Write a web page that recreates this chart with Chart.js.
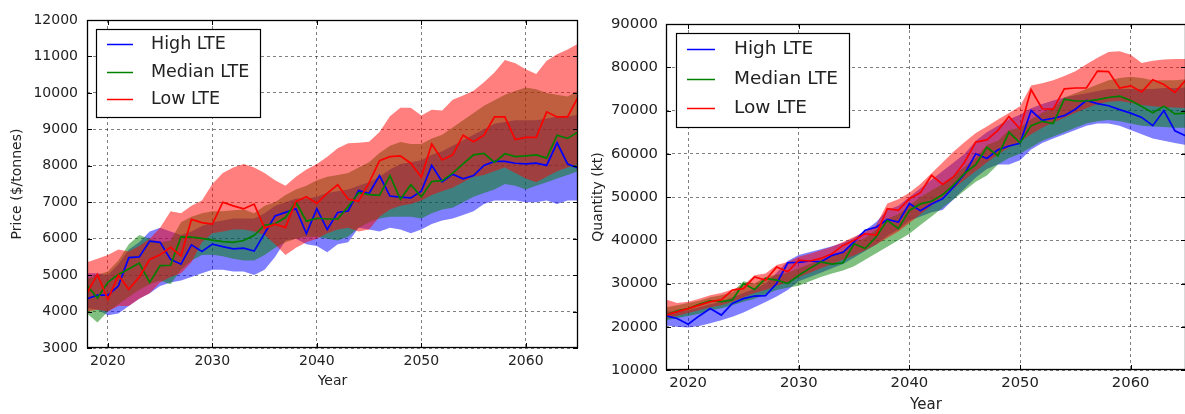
<!DOCTYPE html>
<html>
<head>
<meta charset="utf-8">
<script src="https://cdn.jsdelivr.net/npm/chart.js@4.4.1/dist/chart.umd.min.js"></script>
<style>
  html, body { margin: 0; padding: 0; background: #fff; overflow: hidden; width: 1185px; height: 414px; }
  .panel { position: absolute; top: 0; height: 414px; }
  #pricePanel { left: 0; width: 590px; }
  #qtyPanel { left: 590px; width: 600px; }
</style>
</head>
<body>
<div class="panel" id="pricePanel"><canvas id="priceChart"></canvas></div>
<div class="panel" id="qtyPanel"><canvas id="qtyChart"></canvas></div>
<script>
// ---- categories ----
const years = [
  2018, 2019, 2020, 2021, 2022, 2023, 2024, 2025, 2026, 2027,
  2028, 2029, 2030, 2031, 2032, 2033, 2034, 2035, 2036, 2037,
  2038, 2039, 2040, 2041, 2042, 2043, 2044, 2045, 2046, 2047,
  2048, 2049, 2050, 2051, 2052, 2053, 2054, 2055, 2056, 2057,
  2058, 2059, 2060, 2061, 2062, 2063, 2064, 2065
];
const seriesNames = ['High LTE', 'Median LTE', 'Low LTE'];

// ---- tick labels ----
const yearTicks = [2020, 2030, 2040, 2050, 2060];
const priceTicks = [3000, 4000, 5000, 6000, 7000, 8000, 9000, 10000, 11000, 12000];
const qtyTicks = [10000, 20000, 30000, 40000, 50000, 60000, 70000, 80000, 90000];

// ---- price ($/tonnes): central paths ----
const priceHigh = [
  4350, 4450, 4450, 4700, 5480, 5500, 5930, 5900, 5430, 5300,
  5830, 5650, 5850, 5780, 5720, 5740, 5660, 6150, 6620, 6720,
  6820, 6140, 6820, 6250, 6720, 6760, 7320, 7240, 7730, 7170,
  7140, 7120, 7300, 8010, 7560, 7770, 7640, 7730, 8010, 8120,
  8120, 8070, 8050, 8070, 8010, 8630, 8050, 7940
];
const priceMedian = [
  4720, 4370, 4800, 5020, 5170, 5330, 4800, 5260, 5270, 6050,
  6040, 6010, 5960, 5920, 5900, 5950, 6090, 6370, 6410, 6580,
  7000, 6480, 6560, 6540, 6540, 6880, 7260, 7210, 7190, 7730,
  7080, 7480, 7150, 7570, 7590, 7800, 8050, 8300, 8340, 8090,
  8330, 8250, 8270, 8300, 8210, 8840, 8750, 8930
];
const priceLow = [
  4500, 5020, 4330, 5000, 4610, 4950, 5430, 5560, 5760, 5530,
  6530, 6440, 6400, 7000, 6900, 6820, 6950, 6290, 6400, 6310,
  7020, 7150, 6970, 7250, 7480, 7080, 7030, 7530, 8140, 8250,
  8270, 8070, 7690, 8600, 8160, 8300, 8840, 8660, 8840, 9340,
  9340, 8720, 8780, 8780, 9480, 9340, 9340, 9880
];

// ---- price: uncertainty bands (lower / upper) ----
const priceHighLo = [
  4100, 4050, 3900, 3950, 4150, 4350, 4500, 4700, 4800, 4850,
  4950, 5050, 5150, 5150, 5100, 5100, 5000, 5150, 5500, 5950,
  6000, 5850, 5800, 5630, 5850, 5900, 6300, 6250, 6200, 6300,
  6250, 6150, 6250, 6400, 6500, 6550, 6650, 6750, 6950, 7050,
  7050, 7050, 7000, 7000, 7050, 6950, 7050, 7050
];
const priceHighHi = [
  5050, 5050, 5000, 5300, 5700, 5900, 6200, 6300, 6200, 6100,
  6200, 6350, 6450, 6500, 6550, 6550, 6550, 6700, 6900, 7000,
  7100, 7100, 7150, 7250, 7300, 7350, 7450, 7550, 7700, 7900,
  8050, 8100, 8150, 8300, 8400, 8550, 8700, 8850, 9000, 9150,
  9200, 9250, 9250, 9250, 9300, 9350, 9350, 9400
];
const priceMedLo = [
  3950, 3700, 4000, 4200, 4400, 4600, 4750, 4850, 4750, 5150,
  5400, 5550, 5560, 5520, 5450, 5400, 5400, 5550, 5750, 5900,
  6000, 6050, 6050, 6000, 5950, 6050, 6300, 6450, 6550, 6600,
  6600, 6600, 6550, 6700, 6800, 6850, 7000, 7150, 7250, 7350,
  7500, 7450, 7350, 7450, 7550, 7650, 7750, 7850
];
const priceMedHi = [
  4900, 5000, 5100, 5400, 5850, 6100, 6000, 5900, 5950, 6450,
  6600, 6700, 6750, 6750, 6780, 6800, 6700, 6900, 7000, 7200,
  7350, 7450, 7600, 7700, 7750, 7800, 7950, 8100, 8350, 8550,
  8650, 8600, 8600, 8750, 8850, 9050, 9250, 9450, 9650, 9800,
  9950, 10050, 10150, 10100, 10000, 9950, 9900, 10050
];
const priceLowLo = [
  4000, 4050, 4000, 4150, 4150, 4350, 4500, 4800, 4950, 5050,
  5350, 5900, 6150, 6200, 6250, 6250, 6200, 6100, 5850, 5550,
  5750, 5900, 6000, 6150, 6250, 6300, 6200, 6250, 6600, 6800,
  6900, 6950, 7050, 7200, 7300, 7400, 7550, 7700, 7750, 7850,
  7950, 7800, 7650, 7550, 7700, 7850, 7950, 8050
];
const priceLowHi = [
  5350, 5450, 5550, 5700, 5650, 5800, 6000, 6300, 6750, 6700,
  6900, 7050, 7500, 7800, 7950, 8050, 7950, 7800, 7600, 7450,
  7700, 7900, 8050, 8250, 8480, 8620, 8630, 8660, 8930, 9360,
  9590, 9590, 9380, 9540, 9520, 9810, 9930, 10060, 10290, 10560,
  10900, 10810, 10650, 10520, 10880, 11060, 11190, 11350
];

// ---- quantity (kt): central paths ----
const qtyHigh = [
  22500, 21900, 20600, 22500, 24200, 22700, 25400, 26500, 27100, 27200,
  30000, 34800, 34900, 35200, 35000, 36500, 37200, 39600, 42300, 43000,
  44800, 44200, 48500, 46800, 48400, 49600, 52300, 55400, 60000, 58900,
  60900, 61800, 62400, 70000, 67700, 68200, 68800, 70300, 72300, 71600,
  71100, 70200, 69400, 68400, 66500, 70000, 65300, 64100
];
const qtyMedian = [
  22700, 23700, 24200, 25200, 26000, 25800, 26200, 30000, 28600, 31200,
  30800, 30000, 31900, 33500, 35000, 34500, 34800, 39200, 38100, 40800,
  44600, 42700, 46900, 48400, 49000, 50500, 52800, 55500, 57500, 61500,
  59500, 65000, 62500, 66500, 67500, 67000, 72600, 72200, 72200, 72500,
  73000, 73300, 72300, 70900, 69500, 71000, 69200, 69400
];
const qtyLow = [
  22700, 23500, 24200, 25000, 25800, 26200, 28500, 28800, 31500, 30800,
  33800, 32700, 35400, 35200, 35800, 36900, 38800, 40000, 41500, 41200,
  47300, 46900, 49600, 51000, 55000, 52900, 54700, 58100, 62700, 63200,
  65400, 68600, 65700, 74800, 70400, 70300, 75000, 75200, 75200, 79100,
  79000, 75200, 75700, 74300, 77100, 76000, 74200, 77100
];

// ---- quantity: uncertainty bands (lower / upper) ----
const qtyHighLo = [
  20300, 20000, 19800, 20200, 20800, 21500, 22300, 23300, 24500, 25700,
  27000, 28500, 30500, 31500, 32500, 33500, 34500, 36000, 37500, 39000,
  41000, 42500, 44500, 45500, 46500, 47000, 49500, 52000, 54500, 56500,
  57500, 57500, 58500, 61000, 62500, 63500, 64500, 65500, 66500, 67000,
  67000, 66500, 65500, 64500, 63500, 63000, 62500, 62000
];
const qtyHighHi = [
  23500, 23500, 23800, 24500, 25200, 25800, 26800, 27800, 28800, 30000,
  32500, 35200, 36600, 37300, 37900, 38600, 39400, 40500, 42300, 44200,
  47000, 48000, 50000, 52000, 54000, 56000, 58000, 60000, 63000, 65000,
  66500, 68000, 69000, 70500, 71500, 72300, 73000, 73500, 74000, 74500,
  75000, 75000, 75000, 75000, 75000, 75200, 75200, 75300
];
const qtyMedLo = [
  21500, 22000, 22500, 23000, 23800, 24300, 25000, 25800, 26500, 27500,
  28500, 29000, 29500, 30500, 31500, 32300, 33000, 34000, 35500, 37000,
  38500, 40000, 41500, 43500, 45500, 47500, 49500, 51500, 53500, 55000,
  57500, 59000, 60000, 61500, 63000, 64000, 65000, 66000, 67000, 67500,
  67800, 67500, 67000, 66500, 66300, 66200, 66000, 66000
];
const qtyMedHi = [
  24500, 25000, 25500, 26000, 26800, 27300, 28000, 30500, 30000, 31500,
  32000, 32500, 33500, 34500, 35500, 36500, 37500, 39500, 40500, 42500,
  45000, 46000, 48000, 50000, 51500, 53000, 55000, 57000, 59000, 62000,
  63000, 65500, 66000, 68000, 69500, 70500, 73000, 74000, 75000, 76000,
  77000, 77500, 77800, 77500, 77000, 77000, 77000, 77200
];
const qtyLowLo = [
  22000, 22500, 23200, 23800, 24500, 25000, 25800, 26800, 27800, 28500,
  29500, 30300, 31500, 32500, 33500, 34500, 35500, 36500, 37700, 39000,
  40500, 42000, 44000, 46000, 48000, 50000, 52000, 54000, 56000, 58000,
  59800, 61500, 62800, 64500, 66000, 67200, 68300, 69500, 70500, 71500,
  72000, 72200, 71800, 71300, 71000, 70800, 70700, 70600
];
const qtyLowHi = [
  26300, 25500, 25800, 26500, 27300, 27800, 28600, 29600, 31900, 32300,
  34300, 35000, 36200, 36900, 37700, 38500, 39600, 40800, 41900, 43500,
  48500, 49500, 51000, 53000, 55500, 58000, 60500, 62700, 64800, 66300,
  67900, 69400, 71000, 75800, 76300, 77000, 78000, 79100, 80700, 82200,
  83500, 83700, 82900, 81000, 81500, 81800, 81900, 81900
];

const lineColors = ['#0000ff', '#008000', '#ff0000'];
const bandColors = ['rgba(0,0,255,0.5)', 'rgba(0,128,0,0.5)', 'rgba(255,0,0,0.5)'];
const FONT = '"DejaVu Sans", sans-serif';
Chart.defaults.font.family = FONT;

const toPoints = vals => years.map((yr, i) => ({ x: yr, y: vals[i] }));

// Bands are drawn blue, then green, then red (higher order = drawn earlier); lines go on top.
function buildDatasets(lines, bands) {
  const ds = [];
  bands.forEach((b, i) => {
    const order = 3 - i;
    ds.push({ data: toPoints(b[0]), borderColor: 'rgba(0,0,0,0)', borderWidth: 0,
              pointRadius: 0, pointHoverRadius: 0, fill: false, order });
    ds.push({ data: toPoints(b[1]), borderColor: 'rgba(0,0,0,0)', borderWidth: 0,
              pointRadius: 0, pointHoverRadius: 0, fill: '-1',
              backgroundColor: bandColors[i], order });
  });
  lines.forEach((vals, i) => {
    ds.push({ label: seriesNames[i], legendLine: true, data: toPoints(vals),
              borderColor: lineColors[i], borderWidth: 1.7, pointRadius: 0,
              pointHoverRadius: 0, fill: false, tension: 0, order: 0.3 - i * 0.1 });
  });
  return ds;
}

// Frame on all four sides with inward-pointing tick marks
const framePlugin = {
  id: 'frame',
  afterDatasetsDraw(chart) {
    const { ctx, chartArea: a, scales } = chart;
    ctx.save();
    ctx.strokeStyle = '#000';
    ctx.lineWidth = 1;
    ctx.beginPath();
    scales.x.ticks.forEach(t => {
      const px = Math.round(scales.x.getPixelForValue(t.value)) + 0.5;
      ctx.moveTo(px, a.bottom); ctx.lineTo(px, a.bottom - 5);
      ctx.moveTo(px, a.top); ctx.lineTo(px, a.top + 5);
    });
    scales.y.ticks.forEach(t => {
      const py = Math.round(scales.y.getPixelForValue(t.value)) + 0.5;
      ctx.moveTo(a.left, py); ctx.lineTo(a.left + 5, py);
      ctx.moveTo(a.right, py); ctx.lineTo(a.right - 5, py);
    });
    ctx.stroke();
    ctx.lineWidth = 1.3;
    ctx.strokeRect(a.left + 0.5, a.top + 0.5, a.right - a.left - 1, a.bottom - a.top - 1);
    ctx.restore();
  }
};

// Boxed legend in the upper-left corner of the plot area
const boxLegendPlugin = {
  id: 'boxLegend',
  afterDatasetsDraw(chart, args, o) {
    const { ctx, chartArea: a } = chart;
    const items = chart.data.datasets.filter(d => d.legendLine);
    const x0 = a.left + o.dx, y0 = a.top + o.dy;
    ctx.save();
    ctx.fillStyle = '#fff';
    ctx.fillRect(x0, y0, o.w, o.h);
    ctx.strokeStyle = '#000';
    ctx.lineWidth = 1.2;
    ctx.strokeRect(x0 + 0.5, y0 + 0.5, o.w, o.h);
    ctx.font = o.fontSize + 'px ' + FONT;
    ctx.textBaseline = 'middle';
    ctx.textAlign = 'left';
    items.forEach((d, i) => {
      const y = Math.round(y0 + o.firstRow + i * o.rowGap) + 0.5;
      ctx.strokeStyle = d.borderColor;
      ctx.lineWidth = 1.5;
      ctx.beginPath();
      ctx.moveTo(x0 + o.lineStart, y);
      ctx.lineTo(x0 + o.lineEnd, y);
      ctx.stroke();
      ctx.fillStyle = '#222';
      ctx.fillText(d.label, x0 + o.textStart, y);
    });
    ctx.restore();
  }
};

function makeChart(canvasId, cfg) {
  return new Chart(document.getElementById(canvasId), {
    type: 'line',
    data: { datasets: buildDatasets(cfg.lines, cfg.bands) },
    plugins: [framePlugin, boxLegendPlugin],
    options: {
      responsive: true,
      maintainAspectRatio: false,
      animation: false,
      events: [],
      layout: { padding: cfg.padding },
      plugins: {
        legend: { display: false },
        tooltip: { enabled: false },
        boxLegend: cfg.legend
      },
      scales: {
        x: {
          type: 'linear', min: 2018, max: 2065,
          afterBuildTicks: s => { s.ticks = yearTicks.map(v => ({ value: v })); },
          afterFit: s => { s.height = cfg.xHeight; },
          ticks: { color: '#222', font: { size: cfg.tickFont }, padding: cfg.xTickPad,
                   callback: v => String(v), maxRotation: 0 },
          grid: { color: 'rgba(0,0,0,0.5)', lineWidth: 1, drawTicks: false },
          border: { display: false, dash: [3, 3] },
          title: { display: true, text: 'Year', color: '#222',
                   font: { size: cfg.xTitleFont }, padding: { top: 0, bottom: cfg.xTitlePad } }
        },
        y: {
          type: 'linear', min: cfg.yMin, max: cfg.yMax,
          afterBuildTicks: s => { s.ticks = cfg.yTicks.map(v => ({ value: v })); },
          afterFit: s => { s.width = cfg.yWidth; },
          ticks: { color: '#222', font: { size: cfg.tickFont }, padding: cfg.yTickPad,
                   callback: v => String(v) },
          grid: { color: 'rgba(0,0,0,0.5)', lineWidth: 1, drawTicks: false },
          border: { display: false, dash: [3, 3] },
          title: { display: true, text: cfg.yTitle, color: '#222',
                   font: { size: cfg.yTitleFont }, padding: { top: cfg.yTitlePad, bottom: 0 } }
        }
      }
    }
  });
}

makeChart('priceChart', {
  lines: [priceHigh, priceMedian, priceLow],
  bands: [[priceHighLo, priceHighHi], [priceMedLo, priceMedHi], [priceLowLo, priceLowHi]],
  yMin: 3000, yMax: 12000, yTicks: priceTicks, yTitle: 'Price ($/tonnes)',
  padding: { top: 20, right: 12, bottom: 0, left: 0 },
  xHeight: 66, yWidth: 87, tickFont: 14, xTickPad: 5, yTickPad: 9,
  xTitleFont: 14, xTitlePad: 24, yTitleFont: 14, yTitlePad: 9,
  legend: { dx: 9, dy: 9, w: 164, h: 88, firstRow: 15, rowGap: 27.5,
            lineStart: 11, lineEnd: 37, textStart: 55, fontSize: 17.5 }
});

makeChart('qtyChart', {
  lines: [qtyHigh, qtyMedian, qtyLow],
  bands: [[qtyHighLo, qtyHighHi], [qtyMedLo, qtyMedHi], [qtyLowLo, qtyLowHi]],
  yMin: 10000, yMax: 90000, yTicks: qtyTicks, yTitle: 'Quantity (kt)',
  padding: { top: 24, right: 4, bottom: 0, left: 0 },
  xHeight: 44, yWidth: 76, tickFont: 14.8, xTickPad: 4, yTickPad: 8,
  xTitleFont: 15, xTitlePad: 0, yTitleFont: 14, yTitlePad: 0,
  legend: { dx: 10, dy: 9, w: 173, h: 94, firstRow: 16, rowGap: 29.5,
            lineStart: 11, lineEnd: 39, textStart: 58, fontSize: 18.5 }
});
</script>
</body>
</html>
